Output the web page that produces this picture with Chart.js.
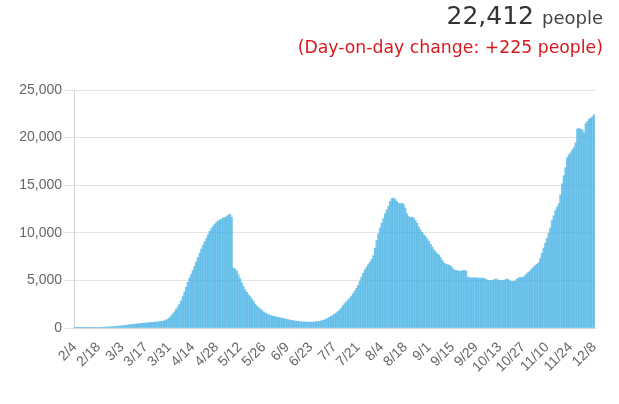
<!DOCTYPE html>
<html>
<head>
<meta charset="utf-8">
<script src="https://cdn.jsdelivr.net/npm/chart.js@4"></script>
<style>
  html, body { margin: 0; padding: 0; background: #fff; }
  #wrap { position: relative; width: 619px; height: 404px; overflow: hidden; }
  #head { position: absolute; right: 16px; top: 1px; text-align: right; font-family: "DejaVu Sans", Verdana, sans-serif; }
  #total { color: #333; font-size: 25px; line-height: 30px; }
  #total span { font-size: 18px; color: #444; }
  #diff { color: #d7191f; font-size: 17.3px; line-height: 24px; margin-top: 2px; }
  #graf { position: absolute; left: 0; top: 0; }
</style>
</head>
<body>
<div id="wrap">
  <canvas id="graf" width="619" height="404"></canvas>
  <div id="head">
    <div id="total">22,412 <span>people</span></div>
    <div id="diff">(Day-on-day change: +225 people)</div>
  </div>
</div>
<script>
// pessoas por dia, 2/4 a 12/8 (2020)
const fev = [10, 12, 14, 15, 18, 20, 22, 25, 28, 30, 33, 38, 45, 55,
  62, 70, 78, 85, 95, 105, 115, 125, 140, 150, 165, 180];
const mar = [195, 215, 235, 255, 280, 300, 325, 345, 370, 390, 410, 430, 450, 470,
  490, 505, 520, 540, 555, 570, 590, 610, 625, 640, 660, 690, 720, 760,
  830, 920, 1050];
const abr = [1250, 1450, 1700, 1950, 2200, 2500, 2850, 3300, 3800, 4300, 4800, 5250, 5650, 6050,
  6500, 6950, 7400, 7850, 8300, 8700, 9050, 9400, 9800, 10150, 10450, 10700, 10900, 11100,
  11250, 11350];
const mai = [11450, 11550, 11600, 11700, 11850, 11950, 11650, 6300, 6200, 6000, 5600, 5200, 4750, 4350,
  4000, 3750, 3500, 3300, 3050, 2800, 2500, 2300, 2150, 2000, 1850, 1700, 1580, 1480,
  1400, 1330, 1270];
const jun = [1220, 1180, 1140, 1100, 1060, 1020, 980, 940, 900, 860, 820, 790, 760, 730,
  700, 680, 660, 645, 635, 625, 615, 610, 615, 625, 635, 650, 670, 700,
  740, 790];
const jul = [860, 940, 1030, 1130, 1230, 1340, 1460, 1580, 1720, 1880, 2080, 2350, 2580, 2750,
  2920, 3120, 3350, 3600, 3870, 4170, 4500, 4900, 5350, 5750, 6100, 6400, 6650, 6900,
  7200, 7600, 8400];
const ago = [9200, 9900, 10500, 11000, 11500, 12000, 12400, 12800, 13300, 13600, 13650, 13500, 13300, 13100,
  13050, 13100, 13000, 12600, 12000, 11700, 11600, 11650, 11550, 11300, 11000, 10600, 10300, 10050,
  9800, 9600, 9350];
const set = [9100, 8800, 8500, 8200, 8000, 7800, 7650, 7400, 7100, 6850, 6700, 6650, 6600, 6500,
  6300, 6100, 6050, 6000, 6000, 5950, 6050, 6050, 6000, 5350, 5300, 5250, 5250, 5300,
  5250, 5250];
const out = [5250, 5200, 5250, 5200, 5100, 5000, 4980, 5000, 5020, 5100, 5150, 5050, 5000, 4980,
  5000, 5050, 5150, 5100, 4950, 4900, 4880, 4900, 5100, 5250, 5300, 5300, 5350, 5500,
  5700, 5850, 6000];
const nov = [6200, 6400, 6550, 6700, 6850, 7300, 7850, 8400, 8900, 9400, 9950, 10500, 11300, 11800,
  12350, 12700, 13050, 14000, 15150, 16000, 16850, 17900, 18200, 18400, 18700, 18950, 19450, 20900,
  20950, 20900];
const dez = [20800, 20500, 21450, 21700, 21950, 22050, 22187, 22412];

const pessoas = [...fev, ...mar, ...abr, ...mai, ...jun, ...jul, ...ago, ...set, ...out, ...nov, ...dez];

const rotulosEixo = ['2/4', '2/18', '3/3', '3/17', '3/31', '4/14', '4/28', '5/12', '5/26', '6/9', '6/23',
  '7/7', '7/21', '8/4', '8/18', '9/1', '9/15', '9/29', '10/13', '10/27', '11/10', '11/24', '12/8'];
const ticksY = [0, 5000, 10000, 15000, 20000, 25000];

// um rótulo "m/d" por dia
const dias = [];
const d = new Date(2020, 1, 4);
for (let i = 0; i < pessoas.length; i++) {
  dias.push((d.getMonth() + 1) + '/' + d.getDate());
  d.setDate(d.getDate() + 1);
}

const ctx = document.getElementById('graf').getContext('2d');
const grafico = new Chart(ctx, {
  type: 'bar',
  data: {
    labels: dias,
    datasets: [{
      data: pessoas,
      backgroundColor: 'rgba(70,178,228,0.72)',
      borderWidth: 0,
      barPercentage: 1,
      categoryPercentage: 1
    }]
  },
  options: {
    responsive: false,
    animation: false,
    events: [],
    layout: { padding: { left: 0, right: 24, top: 90, bottom: 0 } },
    plugins: { legend: { display: false }, tooltip: { enabled: false } },
    scales: {
      x: {
        grid: { display: false },
        border: { color: '#d6d6d6' },
        ticks: {
          autoSkip: false,
          minRotation: 45,
          maxRotation: 45,
          color: '#666',
          font: { family: 'Liberation Sans, Arial', size: 14 },
          callback: function (v, i) {
            const l = this.getLabelForValue(v);
            return rotulosEixo.includes(l) ? l : '';
          }
        },
        afterFit: (s) => { s.height = 76; }
      },
      y: {
        min: 0,
        max: 25000,
        afterBuildTicks: (s) => { s.ticks = ticksY.map(v => ({ value: v })); },
        grid: { color: '#e3e3e3', tickLength: 10 },
        border: { color: '#d6d6d6' },
        ticks: {
          padding: 2,
          color: '#666',
          font: { family: 'Liberation Sans, Arial', size: 14 },
          callback: (v) => v.toLocaleString('en-US')
        },
        afterFit: (s) => { s.width = 74; }
      }
    }
  }
});
</script>
</body>
</html>
